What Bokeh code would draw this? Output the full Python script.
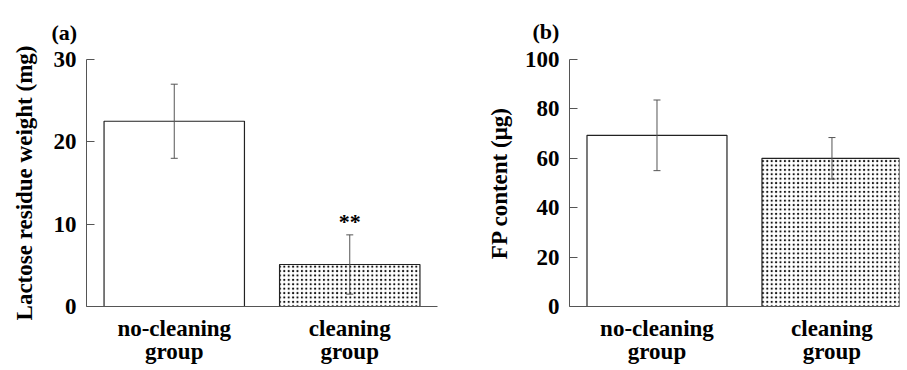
from bokeh.plotting import figure
from bokeh.models import ColumnDataSource, Whisker, Range1d, FixedTicker
from bokeh.layouts import row
from bokeh.embed import file_html
from bokeh.resources import INLINE
from bokeh.core.properties import value

# ---- data ----
groups = ["no-cleaning\ngroup", "cleaning\ngroup"]
lactose_mean = [22.5, 5.1]
lactose_err = [4.5, 3.6]
fp_mean = [69.3, 60.0]
fp_err = [14.3, 8.4]
hatches = [" ", "."]
y_ticks_a = [0, 10, 20, 30]
y_ticks_b = [0, 20, 40, 60, 80, 100]
signif = ["", "**"]

FONT = "Liberation Serif"
AXC = "#555555"
FH = 247


def make_panel(means, errs, label, ylabel, yticks, ymax, fw, bl, br, bt, bb, x_end,
               lab_standoff, title_off, title_standoff, stars=None):
    pos = list(range(len(groups)))
    src = ColumnDataSource(dict(
        x=pos, m=means,
        lo=[m - e for m, e in zip(means, errs)],
        hi=[m + e for m, e in zip(means, errs)],
        h=hatches,
        s=stars if stars else ["", ""],
    ))
    p = figure(x_range=Range1d(-0.5, x_end), y_range=Range1d(0, ymax),
               frame_width=fw, frame_height=FH, output_backend="svg", toolbar_location=None,
               min_border_left=bl, min_border_right=br, min_border_top=bt, min_border_bottom=bb)
    p.outline_line_color = None
    p.xgrid.grid_line_color = None
    p.ygrid.grid_line_color = None
    p.background_fill_color = "white"

    p.vbar(x="x", top="m", width=0.8, source=src, fill_color="white",
           line_color="#222222", line_width=1.2,
           hatch_pattern="h", hatch_color="#111111", hatch_scale=4.4, hatch_weight=1.4)
    w = Whisker(base="x", upper="hi", lower="lo", source=src, line_color=AXC, line_width=1,
                level="overlay")
    w.upper_head.size = 7
    w.lower_head.size = 7
    w.upper_head.line_color = AXC
    w.lower_head.line_color = AXC
    p.add_layout(w)
    if stars:
        p.text(x="x", y="hi", text="s", source=src, text_align="center", text_baseline="bottom",
               y_offset=-1, text_font=value(FONT), text_font_style="bold", text_font_size="22px",
               text_color="black")

    p.yaxis.ticker = yticks
    p.yaxis.axis_label = ylabel
    p.yaxis.axis_label_text_font = FONT
    p.yaxis.axis_label_text_font_style = "bold"
    p.yaxis.axis_label_text_font_size = "23px"
    p.yaxis.axis_label_text_color = "black"
    p.yaxis.axis_label_standoff = lab_standoff
    p.yaxis.major_label_text_font = FONT
    p.yaxis.major_label_text_font_style = "bold"
    p.yaxis.major_label_text_font_size = "23px"
    p.yaxis.major_label_text_color = "black"
    p.yaxis.major_label_standoff = 10
    p.yaxis.major_tick_in = 8
    p.yaxis.major_tick_out = 0
    p.yaxis.minor_tick_line_color = None
    p.yaxis.axis_line_color = AXC
    p.yaxis.major_tick_line_color = AXC

    p.xaxis.ticker = FixedTicker(ticks=pos)
    p.xaxis.major_label_overrides = {i: g for i, g in zip(pos, groups)}
    p.xaxis.axis_line_color = AXC
    p.xaxis.major_tick_line_color = None
    p.xaxis.major_tick_in = 0
    p.xaxis.major_tick_out = 0
    p.xaxis.minor_tick_line_color = None
    p.xaxis.major_label_text_font = FONT
    p.xaxis.major_label_text_font_style = "bold"
    p.xaxis.major_label_text_font_size = "23px"
    p.xaxis.major_label_text_color = "black"
    p.xaxis.major_label_text_line_height = 0.95
    p.xaxis.major_label_standoff = 9

    p.title.text = label
    p.title.text_font = FONT
    p.title.text_font_style = "bold"
    p.title.text_font_size = "22px"
    p.title.text_color = "black"
    p.title.align = "left"
    p.title.offset = title_off
    p.title.vertical_align = "bottom"
    p.title.standoff = title_standoff
    return p


pa = make_panel(lactose_mean, lactose_err, "(a)", "Lactose residue weight (mg)", y_ticks_a, 30,
                fw=351, bl=86, br=46, bt=57, bb=54, x_end=1.5, lab_standoff=14,
                title_off=-35, title_standoff=30, stars=signif)
pb = make_panel(fp_mean, fp_err, "(b)", "FP content (\u03bcg)", y_ticks_b, 100,
                fw=330, bl=82, br=2, bt=59, bb=52, x_end=1.386, lab_standoff=10,
                title_off=-37, title_standoff=32)

layout = row(pa, pb)
open("out.html", "w").write(file_html(layout, INLINE))
